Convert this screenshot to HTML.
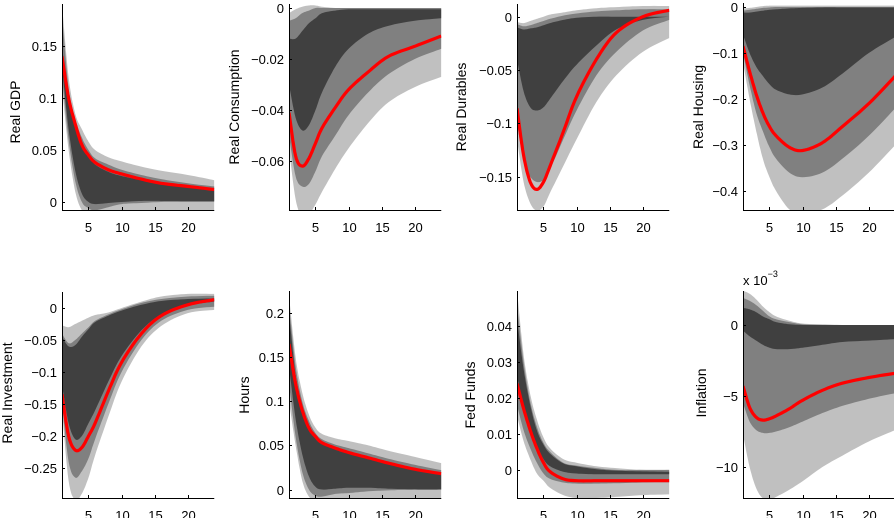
<!DOCTYPE html>
<html><head><meta charset="utf-8"><style>
html,body{margin:0;padding:0;background:#fff;}
svg{display:block;font-family:"Liberation Sans",Arial,sans-serif;}
</style></head>
<body>
<svg id="chart" width="894" height="518" viewBox="0 0 894 518" xmlns="http://www.w3.org/2000/svg"></svg>
<script>
// horizons at which values were read
const horizons = [1,2,3,4,5,6,8,10,13,16,20,24];
const xTicks = [5,10,15,20];

// Real GDP
const gdpMed = [0.14,0.10,0.075,0.055,0.045,0.038,0.031,0.027,0.022,0.018,0.015,0.012];
const gdpLightHi = [0.19,0.12,0.085,0.07,0.058,0.05,0.043,0.039,0.034,0.030,0.026,0.021];
const gdpMidHi = [0.18,0.11,0.08,0.062,0.05,0.042,0.036,0.031,0.026,0.022,0.018,0.015];
const gdpDarkHi = [0.15,0.10,0.075,0.055,0.044,0.036,0.029,0.025,0.021,0.017,0.014,0.011];
const gdpDarkLo = [0.13,0.07,0.03,0.008,0.0,-0.002,-0.001,0.0,0.001,0.001,0.001,0.001];
const gdpMidLo = [0.12,0.06,0.02,0.0,-0.006,-0.008,-0.005,-0.002,-0.001,0.0,0.0,0.0];
const gdpLightLo = [0.11,0.05,0.01,-0.008,-0.012,-0.012,-0.01,-0.009,-0.008,-0.008,-0.008,-0.008];
const gdpTicks = [0,0.05,0.1,0.15];
const gdpTickLabels = ["0","0.05","0.1","0.15"];

// Real Consumption
const conMed = [-0.041,-0.058,-0.062,-0.059,-0.053,-0.047,-0.039,-0.032,-0.025,-0.019,-0.015,-0.011];
const conLightHi = [-0.002,-0.0005,0.0005,0.001,0.001,0.0005,0,0,0,0,0,0];
const conMidHi = [-0.005,-0.004,-0.002,-0.001,0,0,0,0,0,0,0,0];
const conDarkHi = [-0.012,-0.012,-0.009,-0.006,-0.004,-0.002,-0.001,-0.0005,-0.0005,-0.0005,-0.0005,-0.0005];
const conDarkLo = [-0.03,-0.043,-0.048,-0.046,-0.04,-0.033,-0.023,-0.016,-0.010,-0.007,-0.005,-0.004];
const conMidLo = [-0.05,-0.066,-0.07,-0.069,-0.064,-0.058,-0.05,-0.042,-0.033,-0.026,-0.02,-0.016];
const conLightLo = [-0.055,-0.075,-0.082,-0.081,-0.077,-0.072,-0.063,-0.055,-0.045,-0.037,-0.031,-0.027];
const conTicks = [-0.06,-0.04,-0.02,0];
const conTickLabels = ["−0.06","−0.04","−0.02","0"];

// Real Durables
const durMed = [-0.086,-0.13,-0.155,-0.162,-0.155,-0.14,-0.108,-0.075,-0.04,-0.015,0.0,0.006];
const durLightHi = [-0.005,-0.006,-0.004,-0.002,0,0.002,0.004,0.006,0.008,0.009,0.01,0.01];
const durMidHi = [-0.007,-0.009,-0.008,-0.006,-0.004,-0.002,0.001,0.003,0.005,0.006,0.007,0.007];
const durDarkHi = [-0.01,-0.012,-0.011,-0.01,-0.008,-0.006,-0.003,-0.001,0,0,0,0];
const durDarkLo = [-0.04,-0.07,-0.085,-0.088,-0.085,-0.077,-0.06,-0.045,-0.027,-0.012,-0.003,0.0];
const durMidLo = [-0.1,-0.135,-0.15,-0.155,-0.153,-0.143,-0.115,-0.088,-0.055,-0.033,-0.013,-0.003];
const durLightLo = [-0.115,-0.155,-0.175,-0.182,-0.178,-0.165,-0.14,-0.115,-0.08,-0.055,-0.033,-0.02];
const durTicks = [-0.15,-0.1,-0.05,0];
const durTickLabels = ["−0.15","−0.1","−0.05","0"];

// Real Housing
const houMed = [-0.085,-0.14,-0.19,-0.23,-0.26,-0.28,-0.305,-0.312,-0.295,-0.26,-0.21,-0.15];
const houLightHi = [-0.003,-0.002,0,0.002,0.003,0.003,0.003,0.003,0.003,0.003,0.003,0.003];
const houMidHi = [-0.008,-0.006,-0.004,-0.002,-0.001,0,0,0,0,0,0,0];
const houDarkHi = [-0.012,-0.012,-0.01,-0.008,-0.006,-0.005,-0.003,-0.002,-0.001,-0.001,-0.001,-0.001];
const houDarkLo = [-0.06,-0.1,-0.13,-0.15,-0.168,-0.18,-0.19,-0.19,-0.175,-0.145,-0.1,-0.065];
const houMidLo = [-0.1,-0.17,-0.23,-0.27,-0.305,-0.33,-0.36,-0.37,-0.36,-0.33,-0.28,-0.22];
const houLightLo = [-0.12,-0.2,-0.27,-0.33,-0.37,-0.4,-0.44,-0.45,-0.44,-0.41,-0.36,-0.3];
const houTicks = [-0.4,-0.3,-0.2,-0.1,0];
const houTickLabels = ["−0.4","−0.3","−0.2","−0.1","0"];

// Real Investment
const invMed = [-0.135,-0.2,-0.222,-0.218,-0.2,-0.18,-0.13,-0.085,-0.04,-0.012,0.005,0.013];
const invLightHi = [-0.027,-0.03,-0.025,-0.02,-0.015,-0.011,-0.007,0.0,0.01,0.018,0.022,0.022];
const invMidHi = [-0.04,-0.055,-0.05,-0.04,-0.03,-0.02,-0.01,-0.002,0.008,0.014,0.018,0.019];
const invDarkHi = [-0.045,-0.06,-0.058,-0.045,-0.033,-0.022,-0.012,-0.004,0.005,0.011,0.014,0.015];
const invDarkLo = [-0.12,-0.18,-0.205,-0.2,-0.18,-0.16,-0.115,-0.075,-0.035,-0.01,0.004,0.01];
const invMidLo = [-0.15,-0.24,-0.265,-0.255,-0.235,-0.205,-0.15,-0.1,-0.05,-0.02,-0.003,0.002];
const invLightLo = [-0.16,-0.27,-0.3,-0.29,-0.265,-0.23,-0.17,-0.115,-0.06,-0.028,-0.008,-0.003];
const invTicks = [-0.25,-0.2,-0.15,-0.1,-0.05,0];
const invTickLabels = ["−0.25","−0.2","−0.15","−0.1","−0.05","0"];

// Hours
const hrsMed = [0.165,0.12,0.09,0.07,0.06,0.053,0.047,0.042,0.036,0.03,0.023,0.018];
const hrsLightHi = [0.22,0.15,0.11,0.085,0.07,0.063,0.058,0.055,0.05,0.044,0.037,0.03];
const hrsMidHi = [0.21,0.14,0.1,0.078,0.064,0.057,0.051,0.047,0.041,0.035,0.028,0.022];
const hrsDarkHi = [0.2,0.13,0.095,0.072,0.06,0.052,0.046,0.041,0.035,0.029,0.022,0.017];
const hrsDarkLo = [0.14,0.08,0.04,0.015,0.003,0.0,0.001,0.002,0.002,0.001,0.0,0.0];
const hrsMidLo = [0.12,0.06,0.02,0.0,-0.007,-0.008,-0.005,-0.004,-0.002,-0.001,0.0,0.0];
const hrsLightLo = [0.1,0.05,0.01,-0.008,-0.012,-0.012,-0.012,-0.012,-0.012,-0.012,-0.012,-0.012];
const hrsTicks = [0,0.05,0.1,0.15,0.2];
const hrsTickLabels = ["0","0.05","0.1","0.15","0.2"];

// Fed Funds
const ffMed = [0.024,0.017,0.011,0.006,0.002,-0.0005,-0.0025,-0.003,-0.003,-0.003,-0.003,-0.003];
const ffLightHi = [0.05,0.032,0.021,0.014,0.009,0.006,0.003,0.002,0.001,0.0005,0.0,0.0];
const ffMidHi = [0.046,0.03,0.019,0.012,0.0075,0.005,0.002,0.0012,0.0005,0.0,0.0,0.0];
const ffDarkHi = [0.042,0.028,0.018,0.011,0.007,0.0045,0.0018,0.001,0.0002,-0.0002,-0.0004,-0.0005];
const ffDarkLo = [0.026,0.018,0.012,0.007,0.003,0.001,-0.0005,-0.001,-0.0012,-0.0012,-0.0012,-0.0012];
const ffMidLo = [0.018,0.011,0.006,0.002,-0.001,-0.0025,-0.0035,-0.0038,-0.0038,-0.0037,-0.0035,-0.0034];
const ffLightLo = [0.015,0.008,0.003,-0.001,-0.003,-0.005,-0.007,-0.0078,-0.0078,-0.0075,-0.007,-0.0068];
const ffTicks = [0,0.01,0.02,0.03,0.04];
const ffTickLabels = ["0","0.01","0.02","0.03","0.04"];

// Inflation (x 10^-3)
const infMed = [-4.3,-5.8,-6.5,-6.7,-6.6,-6.4,-5.9,-5.3,-4.6,-4.1,-3.7,-3.4];
const infLightHi = [2.4,2.2,1.8,1.3,0.9,0.6,0.3,0.1,0.05,0,0,0];
const infMidHi = [1.9,1.7,1.4,1.0,0.6,0.4,0.2,0.05,0,0,0,0];
const infDarkHi = [1.2,1.1,0.9,0.6,0.4,0.2,0.05,0,0,0,0,0];
const infDarkLo = [-0.4,-0.8,-1.1,-1.4,-1.6,-1.7,-1.7,-1.6,-1.4,-1.2,-1.1,-1.0];
const infMidLo = [-5.5,-6.8,-7.4,-7.6,-7.6,-7.5,-7.2,-6.8,-6.2,-5.7,-5.2,-4.8];
const infLightLo = [-7.7,-10.0,-11.5,-12.2,-12.3,-12.1,-11.6,-11.0,-10.0,-9.2,-8.2,-7.4];
const infTicks = [-10,-5,0];
const infTickLabels = ["−10","−5","0"];

const NS = "http://www.w3.org/2000/svg";
const svg = document.getElementById("chart");

const panels = [
 {key:"real-gdp",title:"Real GDP",x0:62,top:4,bottom:210,yMin:-0.0077,yMax:0.1904,labX:15,labY:112,
  med:gdpMed,lh:gdpLightHi,mh:gdpMidHi,dh:gdpDarkHi,dl:gdpDarkLo,ml:gdpMidLo,ll:gdpLightLo,ticks:gdpTicks,tl:gdpTickLabels},
 {key:"real-consumption",title:"Real Consumption",x0:289,top:4,bottom:210,yMin:-0.0792,yMax:0.00157,labX:234,labY:107,
  med:conMed,lh:conLightHi,mh:conMidHi,dh:conDarkHi,dl:conDarkLo,ml:conMidLo,ll:conLightLo,ticks:conTicks,tl:conTickLabels},
 {key:"real-durables",title:"Real Durables",x0:517,top:4,bottom:210,yMin:-0.1813,yMax:0.0119,labX:461,labY:107,
  med:durMed,lh:durLightHi,mh:durMidHi,dh:durDarkHi,dl:durDarkLo,ml:durMidLo,ll:durLightLo,ticks:durTicks,tl:durTickLabels},
 {key:"real-housing",title:"Real Housing",x0:743,top:3,bottom:210,yMin:-0.4413,yMax:0.0087,labX:698,labY:107,
  med:houMed,lh:houLightHi,mh:houMidHi,dh:houDarkHi,dl:houDarkLo,ml:houMidLo,ll:houLightLo,ticks:houTicks,tl:houTickLabels},
 {key:"real-investment",title:"Real Investment",x0:62,top:292,bottom:498,yMin:-0.2969,yMax:0.025,labX:7,labY:393,
  med:invMed,lh:invLightHi,mh:invMidHi,dh:invDarkHi,dl:invDarkLo,ml:invMidLo,ll:invLightLo,ticks:invTicks,tl:invTickLabels},
 {key:"hours",title:"Hours",x0:289,top:291,bottom:498,yMin:-0.0096,yMax:0.2251,labX:244,labY:395,
  med:hrsMed,lh:hrsLightHi,mh:hrsMidHi,dh:hrsDarkHi,dl:hrsDarkLo,ml:hrsMidLo,ll:hrsLightLo,ticks:hrsTicks,tl:hrsTickLabels},
 {key:"fed-funds",title:"Fed Funds",x0:517,top:291,bottom:498,yMin:-0.0078,yMax:0.0497,labX:470,labY:395,
  med:ffMed,lh:ffLightHi,mh:ffMidHi,dh:ffDarkHi,dl:ffDarkLo,ml:ffMidLo,ll:ffLightLo,ticks:ffTicks,tl:ffTickLabels},
 {key:"inflation",title:"Inflation",x0:743,top:291,bottom:498,yMin:-12.18,yMax:2.39,labX:701,labY:393,
  med:infMed,lh:infLightHi,mh:infMidHi,dh:infDarkHi,dl:infDarkLo,ml:infMidLo,ll:infLightLo,ticks:infTicks,tl:infTickLabels}
];

const DX = 6.62;
function mk(tag, attrs, parent){
  const e = document.createElementNS(NS, tag);
  for (const k in attrs) e.setAttribute(k, attrs[k]);
  (parent||svg).appendChild(e);
  return e;
}
function smoothPts(xs, ys){
  const out = [];
  const n = xs.length;
  for (let i=0;i<n-1;i++){
    const i0=Math.max(0,i-1), i3=Math.min(n-1,i+2);
    for (let s=0;s<8;s++){
      const t=s/8, t2=t*t, t3=t2*t;
      const f=(p0,p1,p2,p3)=>0.5*((2*p1)+(-p0+p2)*t+(2*p0-5*p1+4*p2-p3)*t2+(-p0+3*p1-3*p2+p3)*t3);
      out.push([f(xs[i0],xs[i],xs[i+1],xs[i3]), f(ys[i0],ys[i],ys[i+1],ys[i3])]);
    }
  }
  out.push([xs[n-1], ys[n-1]]);
  return out;
}

panels.forEach((p, pi) => {
  const g = mk("g", {});
  
  
  const xScale = h => p.x0 + (h - 1) * DX;
  const yScale = v => p.bottom - (v - p.yMin) / (p.yMax - p.yMin) * (p.bottom - p.top);
  const xEnd = xScale(24);
  const clipId = "clip" + pi;
  const cp = mk("clipPath", {id: clipId}, g);
  mk("rect", {x: p.x0, y: p.top, width: xEnd - p.x0, height: p.bottom - p.top}, cp);
  const plot = mk("g", {"clip-path": "url(#" + clipId + ")"}, g);
  const xs = horizons.map(xScale);
  const bands = [[p.lh, p.ll, "#c0c0c0", "outer-band"], [p.mh, p.ml, "#808080", "middle-band"], [p.dh, p.dl, "#404040", "inner-band"]];
  bands.forEach(b => {
    const hi = smoothPts(xs, b[0].map(yScale));
    const lo = smoothPts(xs, b[1].map(yScale)).reverse();
    const pts = hi.concat(lo).map(q => q[0].toFixed(1) + "," + q[1].toFixed(1)).join(" ");
    const poly = mk("polygon", {points: pts, fill: b[2], stroke: "none"}, plot);
    
    
  });
  const med = smoothPts(xs, p.med.map(yScale));
  const line = mk("polyline", {points: med.map(q => q[0].toFixed(1) + "," + q[1].toFixed(1)).join(" "), fill: "none", stroke: "#ff0000", "stroke-width": 3.2, "stroke-linejoin": "round"}, plot);
  
  

  const ya = mk("line", {x1: p.x0 + 0.5, y1: p.top, x2: p.x0 + 0.5, y2: p.bottom + 0.5, stroke: "#000", "stroke-width": 1}, g);
  
  
  const xa = mk("line", {x1: p.x0, y1: p.bottom + 0.5, x2: xEnd, y2: p.bottom + 0.5, stroke: "#000", "stroke-width": 1}, g);
  
  

  p.ticks.forEach((v, i) => {
    const y = Math.round(yScale(v)) + 0.5;
    mk("line", {x1: p.x0, y1: y, x2: p.x0 + 3, y2: y, stroke: "#000", "stroke-width": 1}, g);
    const t = mk("text", {x: p.x0 - 5, y: y + 4.5, "text-anchor": "end", "font-size": 13, fill: "#000"}, g);
    
    
    t.textContent = p.tl[i];
  });
  xTicks.forEach(h => {
    const x = Math.round(xScale(h)) + 0.5;
    mk("line", {x1: x, y1: p.bottom, x2: x, y2: p.bottom - 3, stroke: "#000", "stroke-width": 1}, g);
    const t = mk("text", {x: x, y: p.bottom + 22, "text-anchor": "middle", "font-size": 13, fill: "#000"}, g);
    
    
    t.textContent = String(h);
  });
  const lab = mk("text", {x: p.labX, y: p.labY, "text-anchor": "middle", "font-size": 14, fill: "#000", transform: "rotate(-90 " + p.labX + " " + p.labY + ") translate(0 5)"}, g);
  
  
  lab.textContent = p.title;
});

const ex = mk("text", {x: 743, y: 285, "font-size": 13, fill: "#000"});


ex.textContent = "x 10";
const sup = mk("tspan", {dy: -8, "font-size": 9}, ex);
sup.textContent = "−3";
</script>
</body></html>
